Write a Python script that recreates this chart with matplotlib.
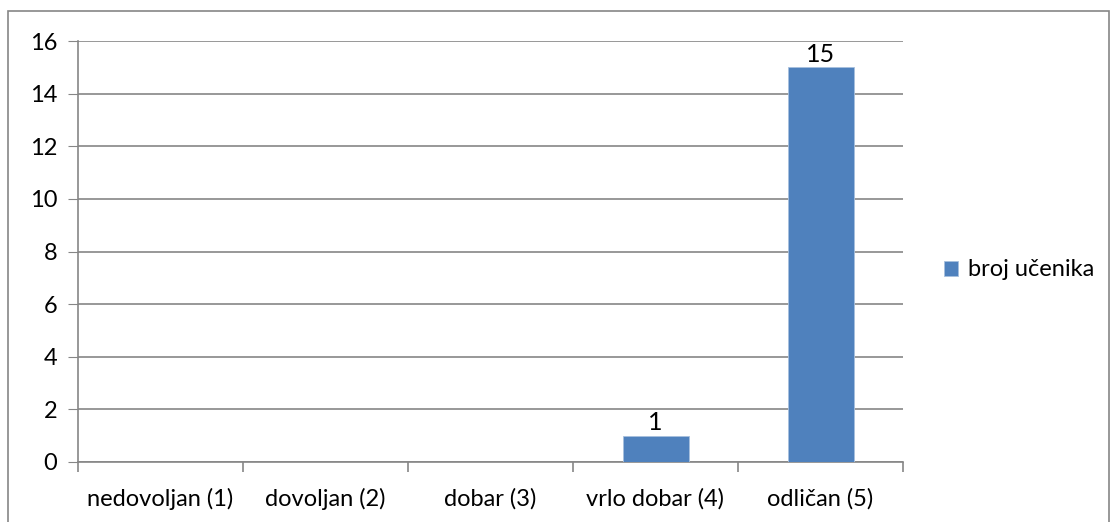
import numpy as np
import matplotlib.pyplot as plt
from matplotlib.patches import Rectangle

categories = ['nedovoljan (1)', 'dovoljan (2)', 'dobar (3)', 'vrlo dobar (4)', 'odličan (5)']
counts = [0, 0, 0, 1, 15]
series_name = 'broj učenika'
y_ticks = [0, 2, 4, 6, 8, 10, 12, 14, 16]

plt.rcParams['font.family'] = ['Lato', 'DejaVu Sans']
grid_col = '#868686'
bar_col = '#4F81BD'
fs = 17

fig = plt.figure(figsize=(11.17, 5.22), dpi=100)
ax = fig.add_axes([78 / 1117, 1 - 462 / 522, 825 / 1117, 421 / 522])

x = np.arange(len(categories))
bars = ax.bar(x, counts, width=0.4, color=bar_col, edgecolor='#A7C0DE', linewidth=0.6,
              label=series_name, zorder=3)
for xi, v in zip(x, counts):
    if v > 0:
        ax.text(xi, v + 0.05, str(v), ha='center', va='bottom', fontsize=fs + 1)

ax.set_xlim(-0.5, len(categories) - 0.5)
ax.set_ylim(0, 16)
ax.set_yticks(y_ticks)
ax.tick_params(axis='y', length=7, color=grid_col, labelsize=fs, pad=8)
ax.yaxis.grid(True, color=grid_col, linewidth=1.2, zorder=0)

ax.set_xticks(x)
ax.set_xticklabels(categories, fontsize=fs)
ax.tick_params(axis='x', length=0, pad=19)
ax.set_xticks(np.arange(-0.5, len(categories)), minor=True)
ax.tick_params(axis='x', which='minor', length=7, color=grid_col, width=1.2)

for side in ['top', 'right']:
    ax.spines[side].set_visible(False)
ax.spines['left'].set_color(grid_col)
ax.spines['bottom'].set_color(grid_col)
ax.spines['left'].set_linewidth(1.2)
ax.spines['bottom'].set_linewidth(1.2)

ax.legend(loc='center left', bbox_to_anchor=(923 / 1117, 1 - 270 / 522),
          bbox_transform=fig.transFigure, frameon=False, fontsize=fs,
          handlelength=0.6, handleheight=0.6, handletextpad=0.4)

fig.patches.append(Rectangle((8 / 1117, -0.05), 1101 / 1117, 1.05 - 11 / 522, transform=fig.transFigure,
                             fill=False, edgecolor=grid_col, linewidth=1.2))

fig.savefig('out.png', dpi=100, facecolor='w')
